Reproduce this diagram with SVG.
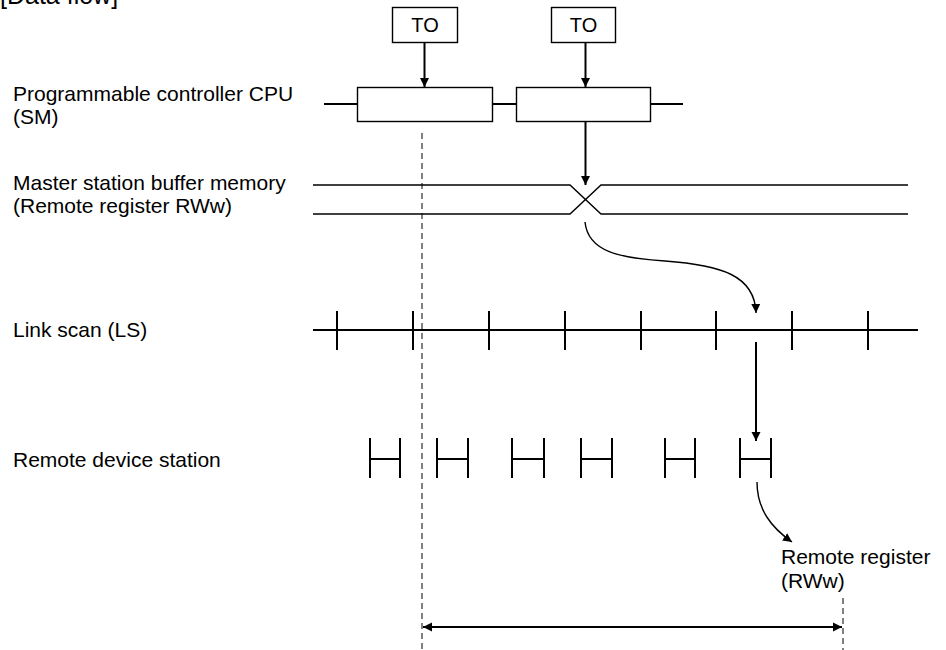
<svg xmlns="http://www.w3.org/2000/svg" width="946" height="650" viewBox="0 0 946 650">
<style>
text{font-family:"Liberation Sans",Arial,sans-serif;font-size:21px;fill:#000}
.box{fill:#fff;stroke:#000;stroke-width:1.4}
.thick{fill:none;stroke:#000;stroke-width:2}
.thin{fill:none;stroke:#000;stroke-width:1.4}
.dash{fill:none;stroke:#000;stroke-width:1;stroke-dasharray:6,4}
.arr{fill:none;stroke:#000;stroke-width:2;marker-end:url(#ah)}
.curve{fill:none;stroke:#000;stroke-width:1.4;marker-end:url(#ah)}
</style>
<defs>
<marker id="ah" viewBox="0 0 10 10" refX="10" refY="5" markerWidth="9" markerHeight="10" markerUnits="userSpaceOnUse" orient="auto"><path d="M0,0 L10,5 L0,10 z" fill="#000"/></marker>
<marker id="ahs" viewBox="0 0 10 10" refX="0" refY="5" markerWidth="9" markerHeight="10" markerUnits="userSpaceOnUse" orient="auto"><path d="M10,0 L0,5 L10,10 z" fill="#000"/></marker>
</defs>
<rect width="946" height="650" fill="#fff"/>
<text id="heading" x="0" y="4" style="font-size:25px">[Data flow]</text>

<g id="labels">
<text x="13" y="101">Programmable controller CPU</text>
<text x="13" y="124">(SM)</text>
<text x="13" y="190">Master station buffer memory</text>
<text x="13" y="213">(Remote register RWw)</text>
<text x="13" y="337">Link scan (LS)</text>
<text x="13" y="467">Remote device station</text>
</g>

<g id="to1"><rect class="box" x="392.5" y="7.5" width="65" height="35"/><text x="425" y="32" text-anchor="middle" style="font-size:20px">TO</text></g>
<g id="to2"><rect class="box" x="551.5" y="7.5" width="64" height="35"/><text x="583.5" y="32" text-anchor="middle" style="font-size:20px">TO</text></g>

<g id="cpu">
<path class="thick" d="M324,104 H357 M492,104 H516 M651,104 H683"/>
<rect class="box" x="357.5" y="87.5" width="135" height="34"/>
<rect class="box" x="516.5" y="87.5" width="134" height="34"/>
</g>

<g id="master">
<path class="thin" d="M313,185 H570 L601,214 H908"/>
<path class="thin" d="M313,214 H570 L601,185 H908"/>
</g>

<g id="linkscan">
<path class="thick" d="M313,330 H918"/>
<path class="thick" d="M337,311 V350 M413,311 V350 M489,311 V350 M565,311 V350 M641,311 V350 M716,311 V350 M792,311 V350 M868,311 V350"/>
</g>

<g id="stations">
<path class="thick" d="M370,438 V478 M370,459 H400 M400,438 V478"/>
<path class="thick" d="M437,438 V478 M437,459 H468 M468,438 V478"/>
<path class="thick" d="M512,438 V478 M512,459 H544 M544,438 V478"/>
<path class="thick" d="M581,438 V478 M581,459 H612 M612,438 V478"/>
<path class="thick" d="M665,438 V478 M665,459 H695 M695,438 V478"/>
<path class="thick" d="M740,438 V478 M740,459 H771 M771,438 V478"/>
</g>

<g id="remote-register"><text x="781" y="564">Remote register</text><text x="781" y="588">(RWw)</text></g>

<g id="connectors">
<path class="dash" d="M422,133 V650"/>
<path class="dash" d="M843,598 V650"/>
<path class="arr" d="M424.5,42 V87"/>
<path class="arr" d="M585.5,42 V87"/>
<path class="arr" d="M585.5,121 V185"/>
<path class="curve" d="M585,222 C588,252 620,258 665,261 C720,265 755,275 756,313"/>
<path class="arr" d="M756,342 V441"/>
<path class="curve" d="M757,482 C757,510 772,528 792,542"/>
<path class="thick" d="M423,627 H842" marker-start="url(#ahs)" marker-end="url(#ah)"/>
</g>
</svg>
